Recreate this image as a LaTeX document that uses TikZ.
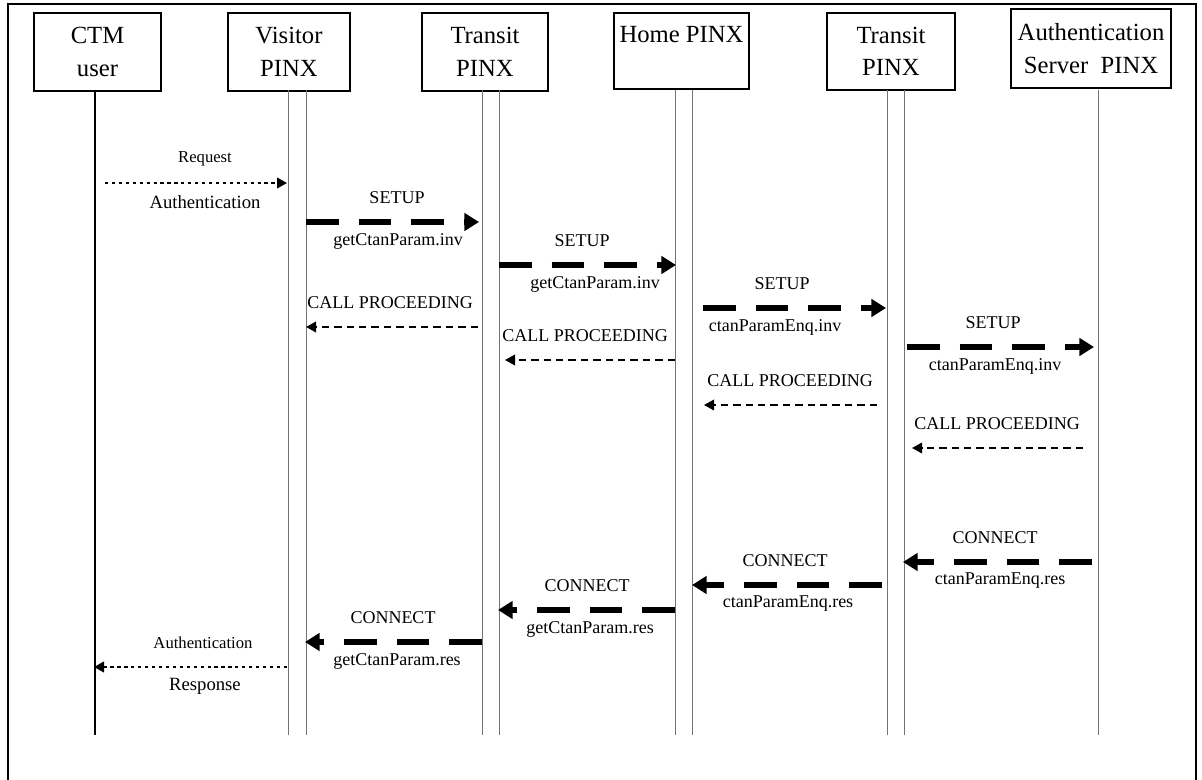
\documentclass[tikz,border=0pt]{standalone}
\usepackage{fontspec}
\setmainfont{Liberation Serif}
\usetikzlibrary{arrows.meta}
\begin{document}
\begin{tikzpicture}[x=0.75pt, y=-0.75pt,
        entity/.style={draw, line width=1.5pt, align=center, inner sep=0pt,
            font=\fontsize{18.5}{24.5}\selectfont},
        life/.style={draw=black!55, line width=0.75pt},
        msgtext/.style={inner sep=0pt, font=\fontsize{13.5}{16}\selectfont},
        setup/.style={line width=4.5pt, dash pattern=on 24.5pt off 15pt,
            -{Triangle[length=11pt, width=13pt]}},
        reply/.style={line width=1.1pt, dash pattern=on 5.5pt off 3.8pt,
            -{Triangle[length=7.5pt, width=8pt]}},
        local/.style={line width=1.5pt, dash pattern=on 2.4pt off 2.8pt,
            -{Triangle[length=7.5pt, width=8pt]}}]
    \useasboundingbox (0,0) rectangle (1202,780);
    \newcommand{\lifeline}[3]{
        \coordinate (#1-t) at (#2,90);
        \coordinate (#1-b) at (#2,735);
        \draw[#3] (#1-t) -- (#1-b);
    }
    % name, style, y, from, to, upper x, upper text, lower x, lower text
    \newcommand{\msg}[9]{
        \coordinate (#1-s) at (#4,#3);
        \coordinate (#1-e) at (#5,#3);
        \draw[#2] (#1-s) -- (#1-e);
        \node[msgtext] (#1-up) at (#6,#3-24) {#7};
        \if\relax\detokenize{#9}\relax\else
            \node[msgtext] (#1-lo) at (#8,#3+19) {#9};
        \fi
    }

    % frame
    \draw[line width=2.2pt] (8,780) -- (8,4) -- (1196,4) -- (1196,780);

    % entities
    \node[entity, minimum width=95pt, minimum height=58.5pt] (ctm) at (97.5,52) {CTM\\user};
    \node[entity, minimum width=91.5pt, minimum height=58.5pt] (visitor) at (289,52) {Visitor\\PINX};
    \node[entity, minimum width=94.5pt, minimum height=58.5pt] (transitA) at (485,52) {Transit\\PINX};
    \node[entity, minimum width=101pt, minimum height=57pt] (home) at (681.5,51) {Home PINX\\~};
    \node[entity, minimum width=96pt, minimum height=58pt] (transitB) at (891,51.5) {Transit\\PINX};
    \node[entity, minimum width=120pt, minimum height=59pt] (auth) at (1091,48.5) {Authentication\\Server~ PINX};

    % lifelines
    \lifeline{ctmL}{95}{black, line width=1.4pt}
    \lifeline{visL1}{288}{life}
    \lifeline{visL2}{306}{life}
    \lifeline{trAL1}{482}{life}
    \lifeline{trAL2}{499}{life}
    \lifeline{homeL1}{675}{life}
    \lifeline{homeL2}{692}{life}
    \lifeline{trBL1}{887}{life}
    \lifeline{trBL2}{904}{life}
    \lifeline{authL}{1098}{life}

    % request towards the server
    \msg{req}{local}{183}{105}{287}{205}{\fontsize{12.5}{15}\selectfont Request}{205}{\fontsize{14}{16}\selectfont Authentication}
    \msg{setA}{setup}{222}{306}{479}{397}{SETUP}{398}{getCtanParam.inv}
    \msg{setB}{setup}{265}{499}{676}{582}{SETUP}{595}{getCtanParam.inv}
    \msg{procA}{reply}{327}{478}{306}{390}{CALL PROCEEDING}{}{}
    \msg{setC}{setup}{308}{703}{886}{782}{SETUP}{775}{ctanParamEnq.inv}
    \msg{procB}{reply}{360}{675}{505}{585}{CALL PROCEEDING}{}{}
    \msg{setD}{setup}{347}{907}{1094}{993}{SETUP}{995}{ctanParamEnq.inv}
    \msg{procC}{reply}{405}{877}{704}{790}{CALL PROCEEDING}{}{}
    \msg{procD}{reply}{448}{1083}{912}{997}{CALL PROCEEDING}{}{}

    % responses back to the user
    \msg{conD}{setup}{562}{1092}{903}{995}{CONNECT}{1000}{ctanParamEnq.res}
    \msg{conC}{setup}{585}{882}{692}{785}{CONNECT}{788}{ctanParamEnq.res}
    \msg{conB}{setup}{610}{675}{498}{587}{CONNECT}{590}{getCtanParam.res}
    \msg{conA}{setup}{642}{482}{305}{393}{CONNECT}{397}{getCtanParam.res}
    \msg{resp}{local}{667}{287}{94}{203}{\fontsize{12.5}{15}\selectfont Authentication}{205}{\fontsize{14}{16}\selectfont Response}
\end{tikzpicture}
\end{document}
